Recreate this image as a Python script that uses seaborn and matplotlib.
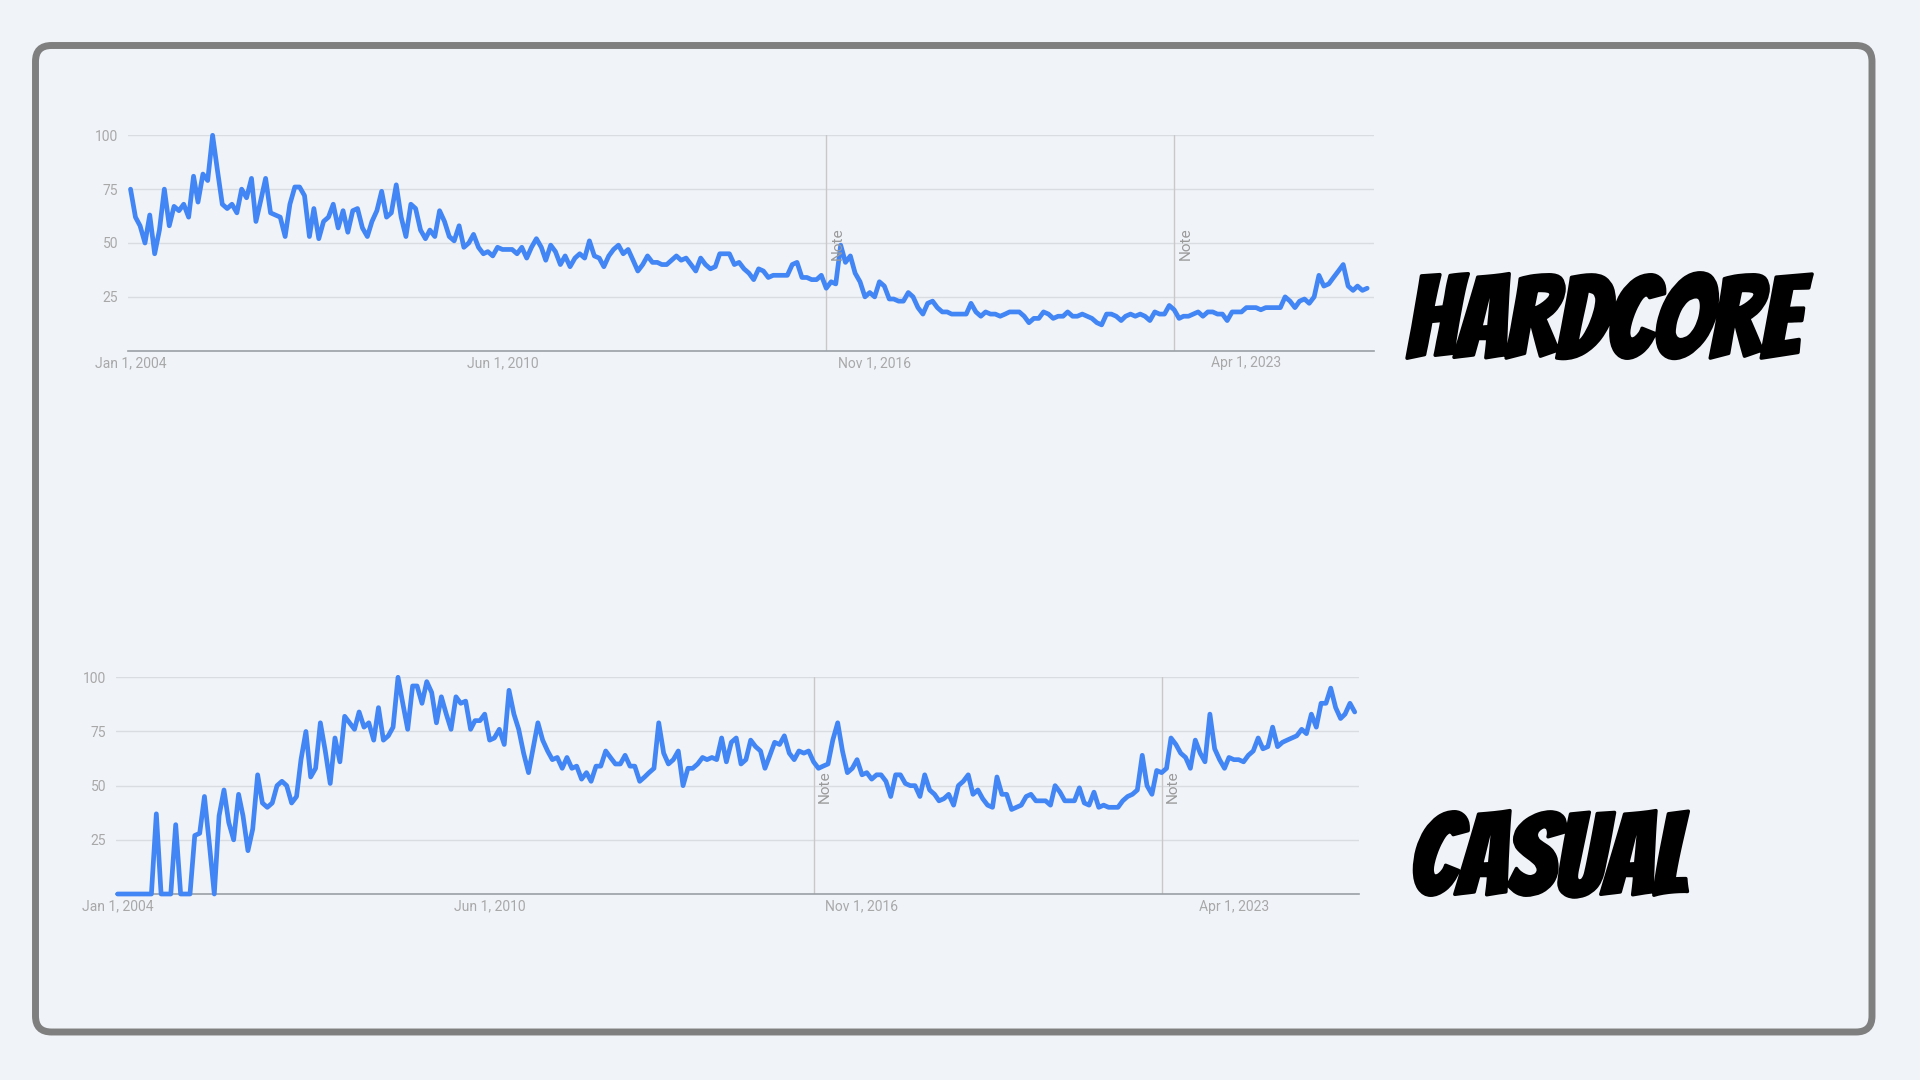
import pandas as pd
import matplotlib
matplotlib.use('Agg')
import matplotlib.pyplot as plt
from matplotlib.patches import FancyBboxPatch
from matplotlib import patheffects as pe
import seaborn as sns

sns.set_theme(style='white')
plt.rcParams['font.family'] = ['Roboto', 'DejaVu Sans']

# monthly Google Trends interest, Jan 2004 .. May 2025
months = pd.date_range('2004-01-01', periods=257, freq='MS')

hardcore = [
    75, 62, 58, 50, 63, 45, 56, 75, 58, 67,
    65, 68, 62, 81, 69, 82, 79, 100, 84, 68,
    66, 68, 64, 75, 71, 80, 60, 70, 80, 64,
    63, 62, 53, 68, 76, 76, 72, 53, 66, 52,
    60, 62, 68, 57, 65, 55, 65, 66, 57, 53,
    60, 65, 74, 62, 64, 77, 62, 53, 68, 66,
    56, 52, 56, 53, 65, 60, 53, 51, 58, 48,
    50, 54, 48, 45, 46, 44, 48, 47, 47, 47,
    45, 48, 43, 48, 52, 48, 42, 49, 46, 40,
    44, 39, 43, 45, 43, 51, 44, 43, 39, 44,
    47, 49, 45, 47, 42, 37, 40, 44, 41, 41,
    40, 40, 42, 44, 42, 43, 40, 37, 43, 40,
    38, 39, 45, 45, 45, 40, 41, 38, 36, 33,
    38, 37, 34, 35, 35, 35, 35, 40, 41, 34,
    34, 33, 33, 35, 29, 32, 31, 49, 41, 44,
    36, 32, 25, 27, 25, 32, 30, 24, 24, 23,
    23, 27, 25, 20, 17, 22, 23, 20, 18, 18,
    17, 17, 17, 17, 22, 18, 16, 18, 17, 17,
    16, 17, 18, 18, 18, 16, 13, 15, 15, 18,
    17, 15, 16, 16, 18, 16, 16, 17, 16, 15,
    13, 12, 17, 17, 16, 14, 16, 17, 16, 17,
    16, 14, 18, 17, 17, 21, 19, 15, 16, 16,
    17, 18, 16, 18, 18, 17, 17, 14, 18, 18,
    18, 20, 20, 20, 19, 20, 20, 20, 20, 25,
    23, 20, 23, 24, 22, 25, 35, 30, 31, 34,
    37, 40, 30, 28, 30, 28, 29,
]

casual = [
    0, 0, 0, 0, 0, 0, 0, 0, 37, 0,
    0, 0, 32, 0, 0, 0, 27, 28, 45, 23,
    0, 36, 48, 33, 25, 46, 36, 20, 30, 55,
    42, 40, 42, 50, 52, 50, 42, 45, 62, 75,
    54, 58, 79, 66, 51, 72, 61, 82, 79, 76,
    84, 77, 79, 71, 86, 71, 73, 77, 100, 88,
    76, 96, 96, 88, 98, 93, 79, 91, 83, 76,
    91, 88, 89, 76, 80, 80, 83, 71, 72, 76,
    69, 94, 83, 76, 65, 56, 67, 79, 71, 66,
    62, 63, 58, 63, 58, 59, 53, 56, 52, 59,
    59, 66, 63, 60, 60, 64, 59, 59, 52, 54,
    56, 58, 79, 65, 60, 62, 66, 50, 58, 58,
    60, 63, 62, 63, 62, 72, 61, 70, 72, 60,
    62, 71, 68, 66, 58, 64, 70, 69, 73, 65,
    62, 66, 65, 66, 61, 58, 59, 60, 71, 79,
    66, 56, 58, 62, 55, 56, 53, 55, 55, 52,
    45, 55, 55, 51, 50, 50, 45, 55, 48, 46,
    43, 44, 46, 41, 50, 52, 55, 46, 48, 44,
    41, 40, 54, 46, 46, 39, 40, 41, 45, 46,
    43, 43, 43, 41, 50, 47, 43, 43, 43, 49,
    42, 41, 47, 40, 41, 40, 40, 40, 43, 45,
    46, 48, 64, 50, 46, 57, 56, 58, 72, 69,
    65, 63, 58, 71, 65, 61, 83, 67, 62, 58,
    63, 62, 62, 61, 64, 66, 72, 67, 68, 77,
    68, 70, 71, 72, 73, 76, 74, 83, 77, 88,
    88, 95, 86, 81, 83, 88, 84,
]

y_ticks = [25, 50, 75, 100]
x_ticks = ['2004-01-01', '2010-06-01', '2016-11-01', '2023-04-01']
x_labels = ['Jan 1, 2004', 'Jun 1, 2010', 'Nov 1, 2016', 'Apr 1, 2023']
notes = ['2016-01-01', '2022-01-01']
titles = ['HARDCORE', 'CASUAL']

bg = '#f0f3f8'
blue = '#4285f4'
grey_txt = '#a8a8a8'

W, H = 1920, 1080
fig = plt.figure(figsize=(19.2, 10.8), dpi=100, facecolor=bg)

# outer rounded frame, drawn in pixel units
frame = fig.add_axes([0, 0, 1, 1], zorder=-1)
frame.set_xlim(0, W)
frame.set_ylim(H, 0)
frame.axis('off')
frame.add_patch(FancyBboxPatch((35.5, 45.5), 1836.5, 986.5,
                               boxstyle='round,pad=0,rounding_size=16',
                               lw=5, ec='#7f7f7f', fc='none'))

# (series, plot box in px: left, top, right, bottom, x limits, title left/baseline px)
panels = [
    (hardcore, (128, 135.3, 1374, 350.7), ('2003-12-16', '2025-06-13'), (1406, 358)),
    (casual, (116, 677.3, 1359, 894), ('2003-12-22', '2025-05-28'), (1410, 895)),
]

for (vals, (l, t, r, b), (x0, x1), (tx, ty)), title in zip(panels, titles):
    df = pd.DataFrame({'month': months, 'value': vals})
    ax = fig.add_axes([l / W, 1 - b / H, (r - l) / W, (b - t) / H])
    ax.set_facecolor('none')
    sns.lineplot(data=df, x='month', y='value', ax=ax, color=blue,
                 lw=3.4, clip_on=False, zorder=3)
    ax.set_ylim(0, 100)
    ax.set_xlim(pd.Timestamp(x0), pd.Timestamp(x1))
    ax.set_yticks(y_ticks)
    ax.yaxis.grid(True, color='#d9dce1', lw=1)
    ax.set_xticks(pd.to_datetime(x_ticks))
    ax.set_xticklabels(x_labels)
    ax.tick_params(length=0, labelsize=10, colors=grey_txt)
    ax.tick_params(axis='y', pad=7)
    ax.tick_params(axis='x', pad=4)
    for s in ['top', 'right', 'left']:
        ax.spines[s].set_visible(False)
    ax.spines['bottom'].set_color('#9aa0a6')
    ax.spines['bottom'].set_linewidth(1.2)
    ax.set_xlabel('')
    ax.set_ylabel('')
    for d in notes:
        ax.axvline(pd.Timestamp(d), color='#c8c8c8', lw=1, zorder=1)
        ax.annotate('Note', (pd.Timestamp(d), 42), xytext=(3, 0),
                    textcoords='offset points', rotation=90,
                    ha='left', va='bottom', color='#9a9a9a', fontsize=11)

    fig.text(tx / W, 1 - ty / H, title, ha='left', va='baseline',
             fontsize=82, family=['Bangers', 'DejaVu Sans'], color='black',
             path_effects=[pe.withStroke(linewidth=2.5, foreground='black')])

fig.savefig('out.png', dpi=100, facecolor=bg)
